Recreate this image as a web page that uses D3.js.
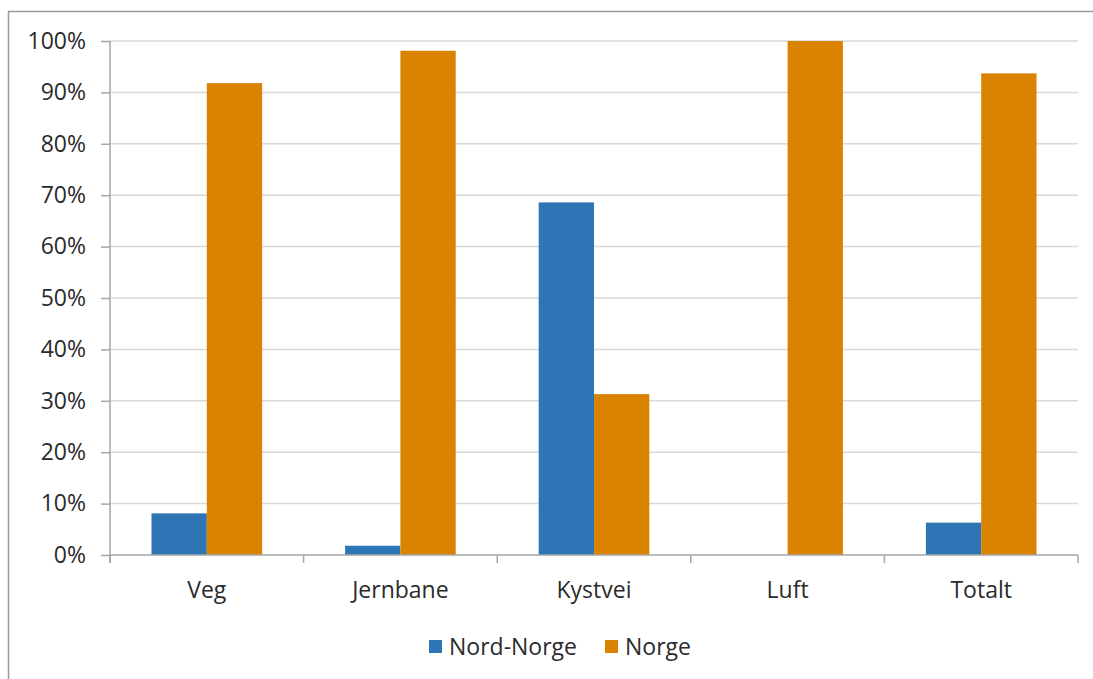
<!DOCTYPE html>
<html><head><meta charset="utf-8">
<script src="https://cdn.jsdelivr.net/npm/d3@7"></script>
<style>body{margin:0;background:#fff;}svg{display:block;font-family:"Open Sans",sans-serif;}</style>
</head><body>
<svg id="c" width="1093" height="679"></svg>
<script>
const categories = ["Veg","Jernbane","Kystvei","Luft","Totalt"];
const seriesNames = ["Nord-Norge","Norge"];
const nordNorge = [0.081, 0.018, 0.686, 0, 0.063];
const norge = [0.918, 0.981, 0.313, 1.0, 0.937];
const yTicks = [0,0.1,0.2,0.3,0.4,0.5,0.6,0.7,0.8,0.9,1.0];
const colors = ["#2E75B6","#D98300"];

(function(){
const FS = "23px", TC = "#2b2b2b";
const svg = d3.select("#c");
svg.append("path").attr("d","M8.5,679 V11.5 H1093").attr("fill","none").attr("stroke","#999999").attr("stroke-width",1.5);

const pL=110, pR=1078, pT=41, pB=555;
const x = d3.scaleBand().domain(categories).range([pL,pR]).paddingInner(0).paddingOuter(0);
const inner = d3.scaleBand().domain(seriesNames).range([0,x.bandwidth()]).paddingInner(0).paddingOuter(0.75);
const y = d3.scaleLinear().domain([0,1]).range([pB,pT]);

svg.append("g").selectAll("line").data(yTicks.filter(d=>d>0)).join("line")
  .attr("x1",pL).attr("x2",pR).attr("y1",d=>y(d)).attr("y2",d=>y(d))
  .attr("stroke","#d9d9d9").attr("stroke-width",1.5);

const data = [nordNorge, norge];
seriesNames.forEach((s,i)=>{
  svg.append("g").selectAll("rect").data(categories).join("rect")
    .attr("x",c=>x(c)+inner(s)).attr("width",inner.bandwidth())
    .attr("y",(c,j)=>y(data[i][j])).attr("height",(c,j)=>y(0)-y(data[i][j]))
    .attr("fill",colors[i]);
});

const yAxis = d3.axisLeft(y).tickValues(yTicks).tickFormat(d3.format(".0%")).tickSize(9).tickPadding(15);
const ga = svg.append("g").attr("transform",`translate(${pL},0)`).call(yAxis);
ga.select(".domain").attr("stroke","#a6a6a6").attr("stroke-width",1.5).attr("d",`M0,${pT}V${pB+8}`);
ga.selectAll(".tick line").attr("stroke","#a6a6a6").attr("stroke-width",1.5);
ga.selectAll(".tick text").attr("fill",TC).style("font-size",FS).style("font-family","'Open Sans',sans-serif");

const xa = svg.append("g").attr("transform",`translate(0,${pB})`);
xa.append("line").attr("x1",pL).attr("x2",pR).attr("stroke","#a6a6a6").attr("stroke-width",1.5);
const bounds = categories.map(c=>x(c)).concat([pR]);
xa.selectAll("line.t").data(bounds).join("line").attr("class","t")
  .attr("x1",d=>d).attr("x2",d=>d).attr("y1",0).attr("y2",8)
  .attr("stroke","#a6a6a6").attr("stroke-width",1.5);
xa.selectAll("text").data(categories).join("text")
  .attr("x",c=>x(c)+x.bandwidth()/2).attr("y",43).attr("text-anchor","middle")
  .attr("fill",TC).style("font-size",FS).text(c=>c);

const legX = [429, 605];
const lg = svg.append("g");
seriesNames.forEach((s,i)=>{
  lg.append("rect").attr("x",legX[i]).attr("y",640).attr("width",13).attr("height",13).attr("fill",colors[i]);
  lg.append("text").attr("x",legX[i]+20).attr("y",655).attr("fill",TC).style("font-size",FS).text(s);
});
})();
</script>
</body></html>
